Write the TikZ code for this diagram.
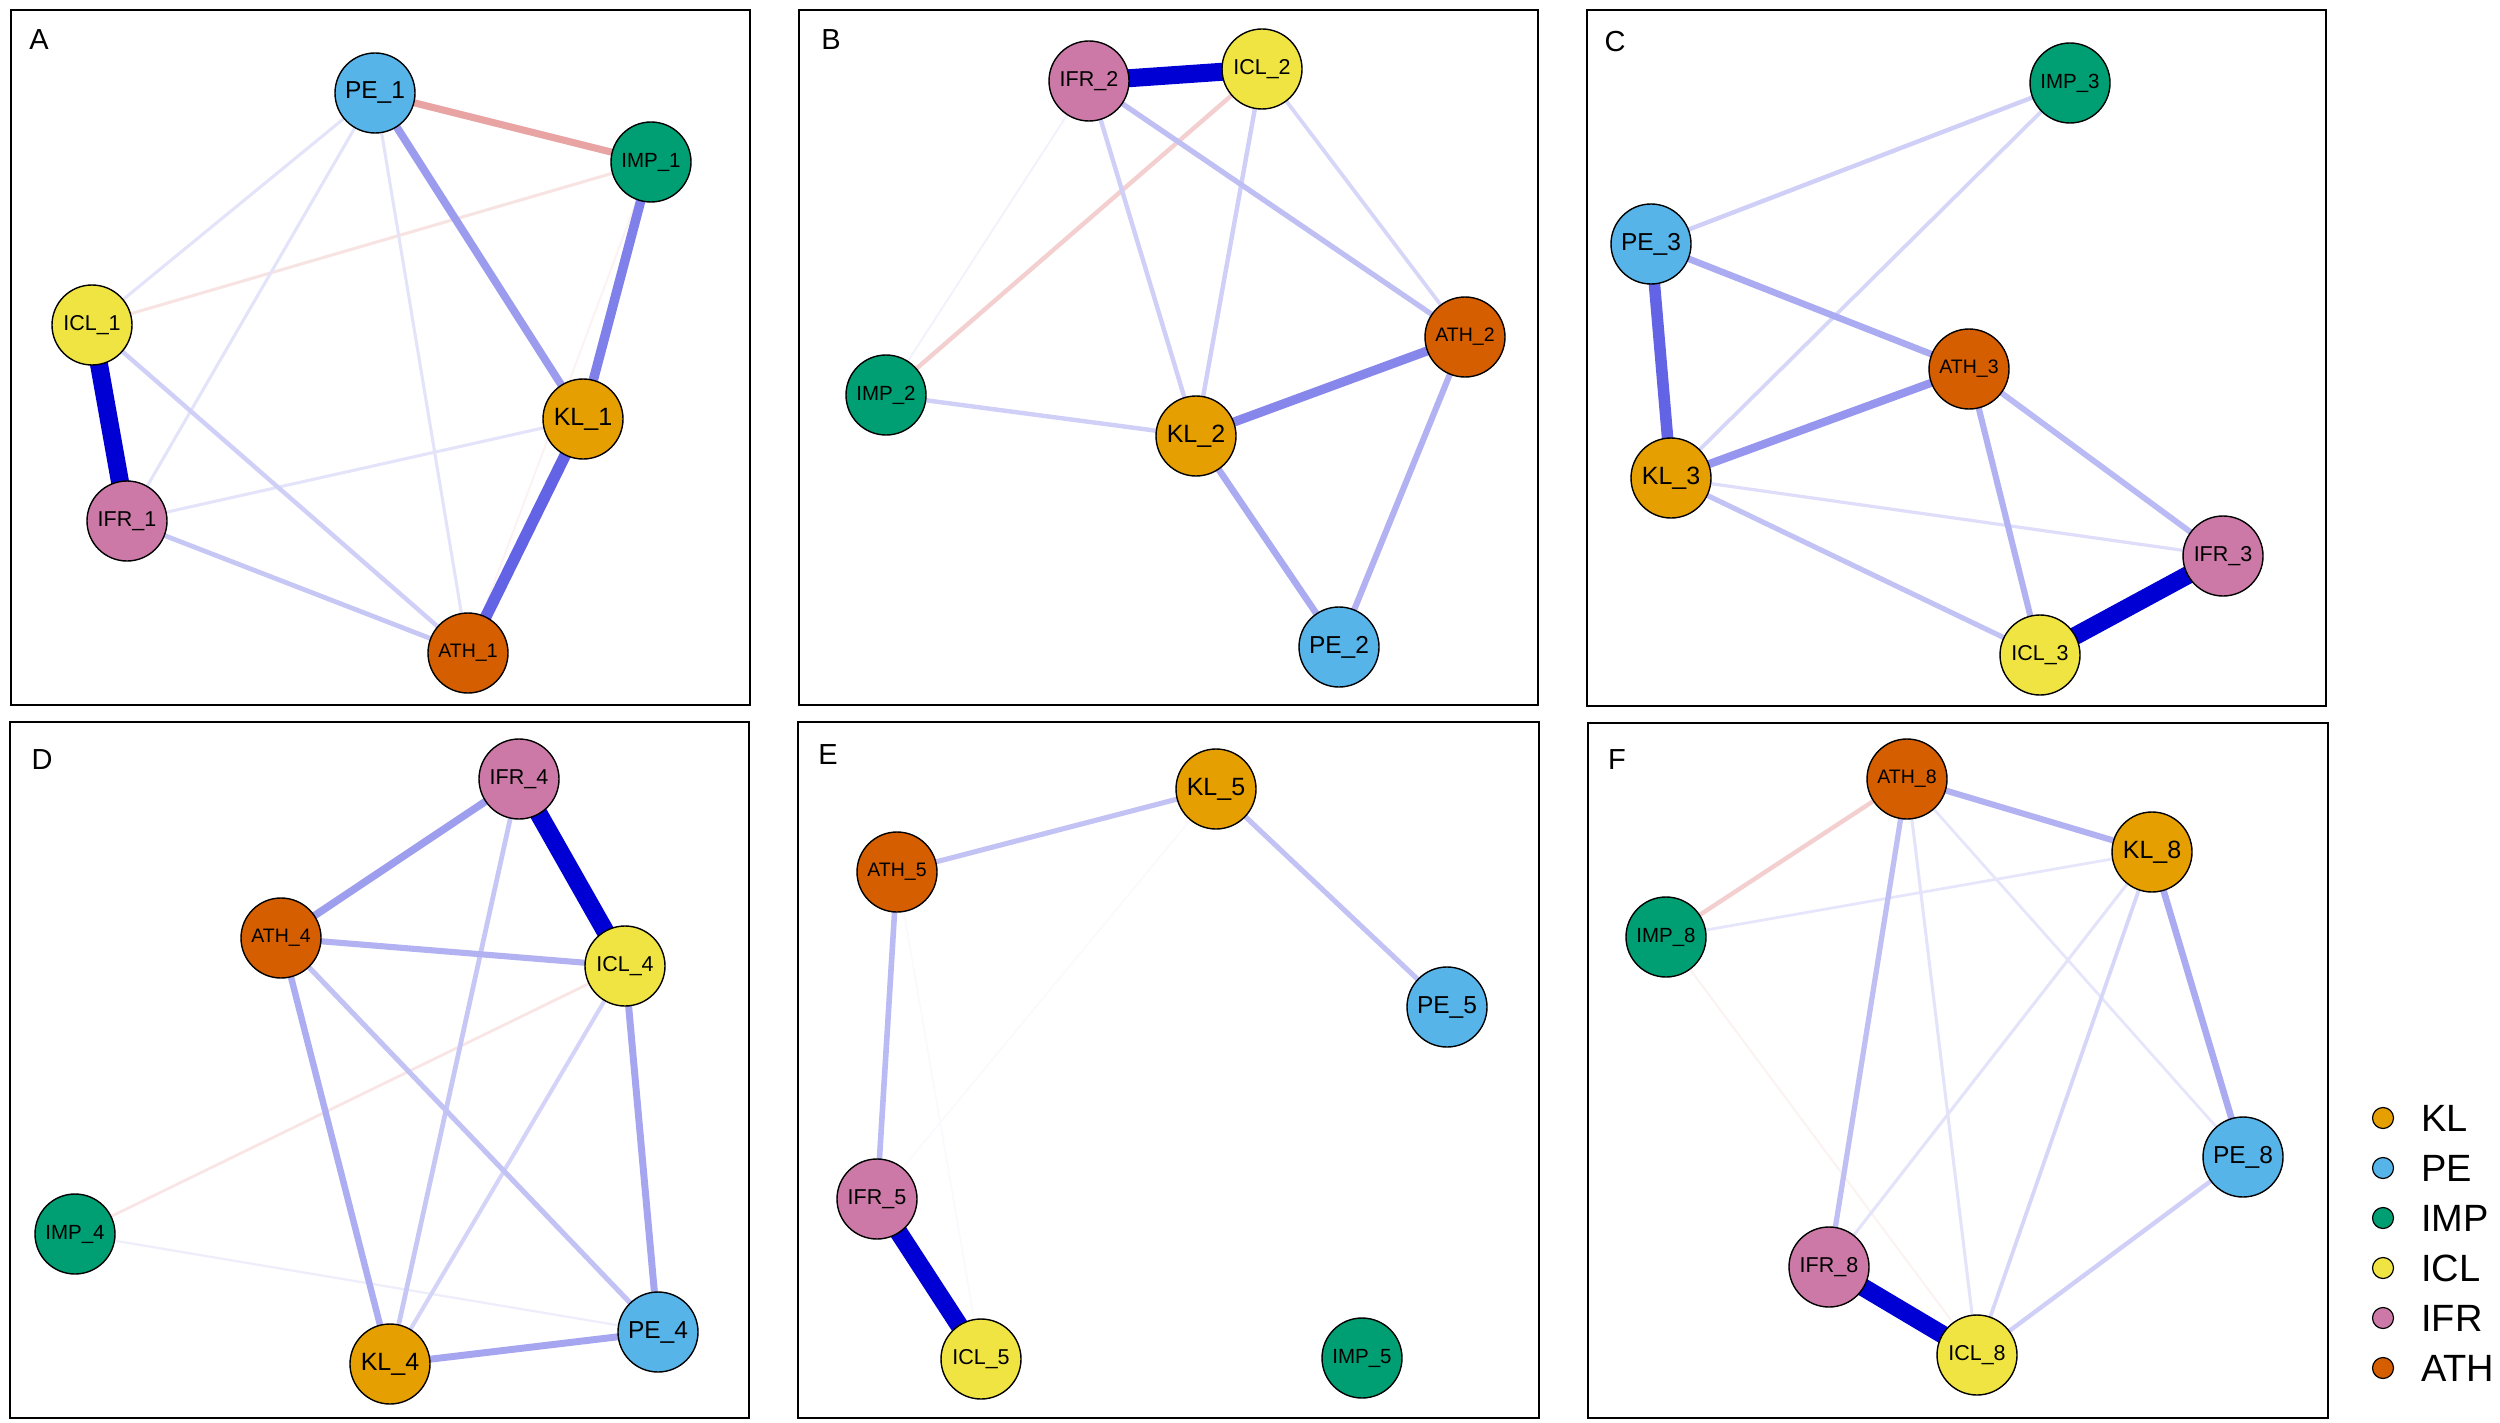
\documentclass[tikz,border=0pt]{standalone}
\usepackage{fontspec}
\newfontfamily\lsans{Liberation Sans}
\usetikzlibrary{backgrounds}
\definecolor{cKL}{HTML}{E69F00}
\definecolor{cPE}{HTML}{56B4E9}
\definecolor{cIMP}{HTML}{009E73}
\definecolor{cICL}{HTML}{F0E442}
\definecolor{cIFR}{HTML}{CC79A7}
\definecolor{cATH}{HTML}{D55E00}
\definecolor{posc}{HTML}{0000D5}
\definecolor{negc}{HTML}{BF0000}
\newcommand\myedge[3]{%
  \pgfmathsetmacro\edw{1+17*#3}%
  \pgfmathtruncatemacro\edc{100*#3}%
  \draw[line width=\edw pt, draw=posc!\edc!white] (#1.center) -- (#2.center);}
\newcommand\mynegedge[3]{%
  \pgfmathsetmacro\edw{1+17*#3}%
  \pgfmathtruncatemacro\edc{100*#3}%
  \draw[line width=\edw pt, draw=negc!\edc!white] (#1.center) -- (#2.center);}
\tikzset{
  nd/.style={circle, draw=black, line width=1.4pt, minimum size=80pt, inner sep=0pt, text=black},
  nKL/.style={nd, fill=cKL, font=\lsans\fontsize{25}{25}\selectfont},
  nPE/.style={nd, fill=cPE, font=\lsans\fontsize{24.5}{25}\selectfont},
  nIMP/.style={nd, fill=cIMP, font=\lsans\fontsize{20.5}{21}\selectfont},
  nICL/.style={nd, fill=cICL, font=\lsans\fontsize{21.5}{22}\selectfont},
  nIFR/.style={nd, fill=cIFR, font=\lsans\fontsize{21.5}{22}\selectfont},
  nATH/.style={nd, fill=cATH, font=\lsans\fontsize{19.5}{20}\selectfont},
  panel/.style={draw=black, line width=2pt},
  plabel/.style={font=\lsans\fontsize{29}{29}\selectfont, inner sep=0pt},
  legdot/.style={circle, draw=black, line width=1.2pt, minimum size=21pt, inner sep=0pt},
  legtxt/.style={anchor=west, font=\lsans\fontsize{38}{38}\selectfont, inner sep=0pt},
}
\begin{document}
\begin{tikzpicture}[x=1pt, y=-1pt]
\useasboundingbox (0,0) rectangle (2500,1423);
% panel frames
\draw[panel] (11,10) rectangle (750,705);
\draw[panel] (799,10) rectangle (1538,705);
\draw[panel] (1587,10) rectangle (2326,706);
\draw[panel] (10,722) rectangle (749,1418);
\draw[panel] (798,722) rectangle (1539,1418);
\draw[panel] (1588,723) rectangle (2328,1418);
\node[plabel] (labA) at (39,40) {A};
\node[plabel] (labB) at (831,40) {B};
\node[plabel] (labC) at (1615,42) {C};
\node[plabel] (labD) at (42,760) {D};
\node[plabel] (labE) at (828,755) {E};
\node[plabel] (labF) at (1617,760) {F};
% Panel A nodes
\node[nPE]  (PE1)  at (375,93)  {PE\_1};
\node[nIMP] (IMP1) at (651,162) {IMP\_1};
\node[nICL] (ICL1) at (92,325)  {ICL\_1};
\node[nKL]  (KL1)  at (583,419) {KL\_1};
\node[nIFR] (IFR1) at (127,521) {IFR\_1};
\node[nATH] (ATH1) at (468,653) {ATH\_1};
% Panel B nodes
\node[nIFR] (IFR2) at (1089,81)  {IFR\_2};
\node[nICL] (ICL2) at (1262,69)  {ICL\_2};
\node[nATH] (ATH2) at (1465,337) {ATH\_2};
\node[nIMP] (IMP2) at (886,395)  {IMP\_2};
\node[nKL]  (KL2)  at (1196,436) {KL\_2};
\node[nPE]  (PE2)  at (1339,647) {PE\_2};
% Panel C nodes
\node[nIMP] (IMP3) at (2070,83)  {IMP\_3};
\node[nPE]  (PE3)  at (1651,244) {PE\_3};
\node[nATH] (ATH3) at (1969,369) {ATH\_3};
\node[nKL]  (KL3)  at (1671,478) {KL\_3};
\node[nIFR] (IFR3) at (2223,556) {IFR\_3};
\node[nICL] (ICL3) at (2040,655) {ICL\_3};
% Panel D nodes
\node[nIFR] (IFR4) at (519,779)  {IFR\_4};
\node[nATH] (ATH4) at (281,938)  {ATH\_4};
\node[nICL] (ICL4) at (625,966)  {ICL\_4};
\node[nIMP] (IMP4) at (75,1234)  {IMP\_4};
\node[nPE]  (PE4)  at (658,1332) {PE\_4};
\node[nKL]  (KL4)  at (390,1364) {KL\_4};
% Panel E nodes
\node[nKL]  (KL5)  at (1216,789)  {KL\_5};
\node[nATH] (ATH5) at (897,872)   {ATH\_5};
\node[nPE]  (PE5)  at (1447,1007) {PE\_5};
\node[nIFR] (IFR5) at (877,1199)  {IFR\_5};
\node[nICL] (ICL5) at (981,1359)  {ICL\_5};
\node[nIMP] (IMP5) at (1362,1358) {IMP\_5};
% Panel F nodes
\node[nATH] (ATH8) at (1907,779)  {ATH\_8};
\node[nKL]  (KL8)  at (2152,852)  {KL\_8};
\node[nIMP] (IMP8) at (1666,937)  {IMP\_8};
\node[nPE]  (PE8)  at (2243,1157) {PE\_8};
\node[nIFR] (IFR8) at (1829,1267) {IFR\_8};
\node[nICL] (ICL8) at (1977,1355) {ICL\_8};
% legend
\node[legdot, fill=cKL]  (gKL)  at (2383,1118) {};
\node[legdot, fill=cPE]  (gPE)  at (2383,1168) {};
\node[legdot, fill=cIMP] (gIMP) at (2383,1218) {};
\node[legdot, fill=cICL] (gICL) at (2383,1268) {};
\node[legdot, fill=cIFR] (gIFR) at (2383,1318) {};
\node[legdot, fill=cATH] (gATH) at (2383,1368) {};
\node[legtxt] (tKL)  at (2421,1118) {KL};
\node[legtxt] (tPE)  at (2421,1168) {PE};
\node[legtxt] (tIMP) at (2421,1218) {IMP};
\node[legtxt] (tICL) at (2421,1268) {ICL};
\node[legtxt] (tIFR) at (2421,1318) {IFR};
\node[legtxt] (tATH) at (2421,1368) {ATH};
\begin{pgfonlayer}{background}
\fill[white] (0,0) rectangle (2500,1423);
% A
\mynegedge{IMP1}{ATH1}{0.05}
\mynegedge{ICL1}{IMP1}{0.12}
\myedge{PE1}{ICL1}{0.12}
\myedge{PE1}{IFR1}{0.12}
\myedge{PE1}{ATH1}{0.12}
\myedge{IFR1}{KL1}{0.12}
\myedge{ICL1}{ATH1}{0.2}
\myedge{IFR1}{ATH1}{0.22}
\mynegedge{PE1}{IMP1}{0.36}
\myedge{PE1}{KL1}{0.4}
\myedge{IMP1}{KL1}{0.5}
\myedge{KL1}{ATH1}{0.62}
\myedge{ICL1}{IFR1}{1.0}
% B
\myedge{IFR2}{IMP2}{0.05}
\myedge{ICL2}{ATH2}{0.16}
\mynegedge{ICL2}{IMP2}{0.2}
\myedge{IFR2}{KL2}{0.2}
\myedge{ICL2}{KL2}{0.2}
\myedge{IMP2}{KL2}{0.2}
\myedge{IFR2}{ATH2}{0.25}
\myedge{ATH2}{PE2}{0.3}
\myedge{KL2}{PE2}{0.33}
\myedge{KL2}{ATH2}{0.48}
\myedge{IFR2}{ICL2}{1.0}
% C
\myedge{KL3}{IFR3}{0.13}
\myedge{IMP3}{KL3}{0.16}
\myedge{PE3}{IMP3}{0.2}
\myedge{KL3}{ICL3}{0.24}
\myedge{ATH3}{IFR3}{0.28}
\myedge{ATH3}{ICL3}{0.3}
\myedge{PE3}{ATH3}{0.33}
\myedge{KL3}{ATH3}{0.42}
\myedge{PE3}{KL3}{0.62}
\myedge{ICL3}{IFR3}{1.0}
% D
\myedge{IMP4}{PE4}{0.07}
\mynegedge{ICL4}{IMP4}{0.1}
\myedge{ICL4}{KL4}{0.18}
\myedge{IFR4}{KL4}{0.22}
\myedge{ATH4}{PE4}{0.24}
\myedge{ATH4}{ICL4}{0.3}
\myedge{ATH4}{KL4}{0.32}
\myedge{ICL4}{PE4}{0.35}
\myedge{KL4}{PE4}{0.35}
\myedge{IFR4}{ATH4}{0.38}
\myedge{IFR4}{ICL4}{1.0}
% E
\myedge{KL5}{IFR5}{0.03}
\myedge{ATH5}{ICL5}{0.03}
\myedge{ATH5}{KL5}{0.24}
\myedge{KL5}{PE5}{0.24}
\myedge{ATH5}{IFR5}{0.27}
\myedge{IFR5}{ICL5}{1.0}
% F
\mynegedge{IMP8}{ICL8}{0.06}
\myedge{ATH8}{PE8}{0.1}
\myedge{KL8}{IMP8}{0.1}
\myedge{KL8}{IFR8}{0.12}
\myedge{ATH8}{ICL8}{0.12}
\myedge{KL8}{ICL8}{0.16}
\mynegedge{ATH8}{IMP8}{0.2}
\myedge{PE8}{ICL8}{0.2}
\myedge{ATH8}{IFR8}{0.25}
\myedge{ATH8}{KL8}{0.3}
\myedge{KL8}{PE8}{0.33}
\myedge{IFR8}{ICL8}{1.0}
\end{pgfonlayer}
\end{tikzpicture}
\end{document}
